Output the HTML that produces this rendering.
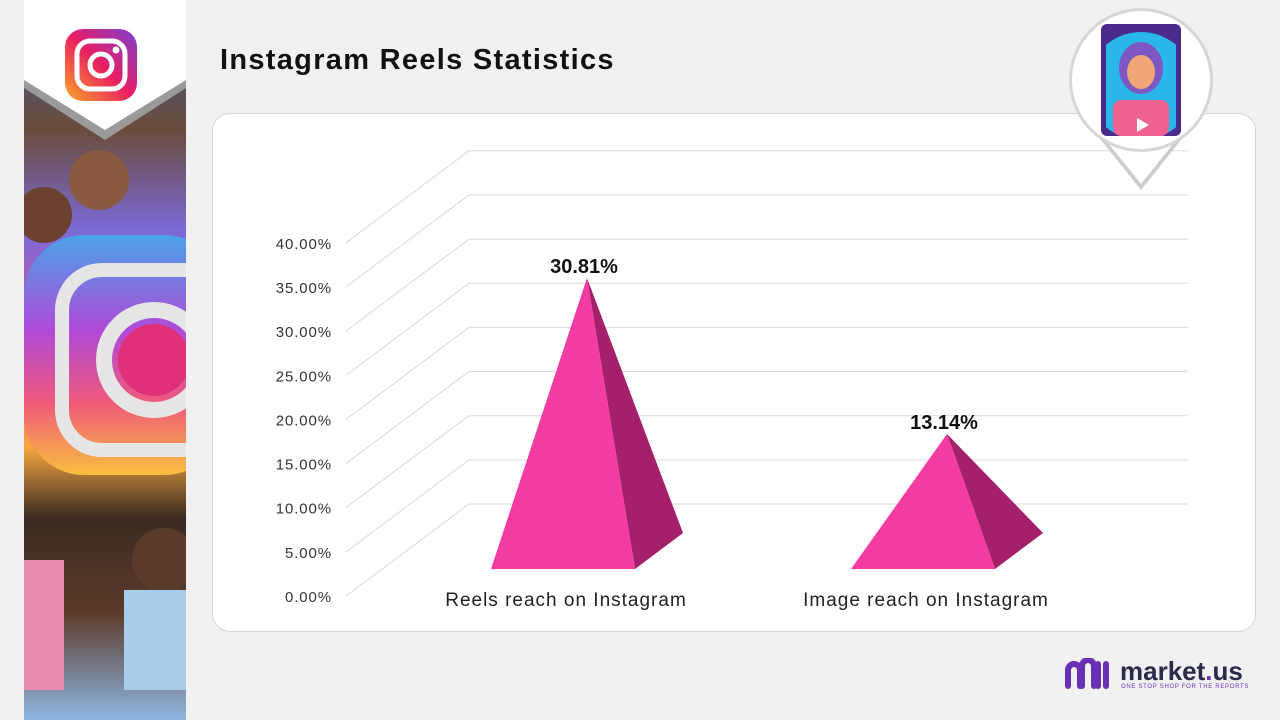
<!DOCTYPE html>
<html><head><meta charset="utf-8">
<style>
body{margin:0;width:1280px;height:720px;background:#f1f1f1;overflow:hidden;position:relative;font-family:"Liberation Sans",sans-serif}
#strip{position:absolute;left:24px;top:0;width:162px;height:720px;overflow:hidden;background:linear-gradient(180deg,#3b5aa8 0%,#6a4c3a 18%,#7b6ad8 32%,#e84a8a 50%,#f6a640 62%,#3a2a22 72%,#5b3a2a 85%,#8fb6e0 100%)}
#title{position:absolute;left:220px;top:44px;font-size:29px;font-weight:bold;color:#111;letter-spacing:1.3px}
#card{position:absolute;left:212px;top:113px;width:1044px;height:519px;background:#fff;border:1px solid #d6d6d6;border-radius:18px;box-sizing:border-box}
svg{position:absolute;left:0;top:0}
</style></head><body>
<div id="strip">
  <svg width="162" height="720">
    <rect x="0" y="235" width="200" height="240" rx="60" fill="url(#ig)" />
    <rect x="38" y="270" width="180" height="180" rx="40" fill="none" stroke="#e6e6e6" stroke-width="14"/>
    <circle cx="130" cy="360" r="50" fill="none" stroke="#e6e6e6" stroke-width="16"/>
    <circle cx="130" cy="360" r="36" fill="#e0307a"/>
    <circle cx="75" cy="180" r="30" fill="#8a5a40"/>
    <circle cx="20" cy="215" r="28" fill="#6a4030"/>
    <circle cx="140" cy="560" r="32" fill="#5a3a28"/>
    <rect x="100" y="590" width="62" height="100" fill="#a9cdeb"/>
    <rect x="0" y="560" width="40" height="130" fill="#e68aae"/>
    <defs><linearGradient id="ig" x1="0" y1="0" x2="0" y2="1"><stop offset="0" stop-color="#4aa3e8"/><stop offset="0.4" stop-color="#b04ad8"/><stop offset="0.7" stop-color="#f05a7a"/><stop offset="1" stop-color="#f8c040"/></linearGradient></defs>
    <polygon points="0,0 162,0 162,88 81,140 0,88" fill="#9a9a9a"/>
    <polygon points="0,0 162,0 162,80 81,130 0,80" fill="#fff"/>
    <defs><linearGradient id="ig2" x1="0" y1="1" x2="1" y2="0"><stop offset="0" stop-color="#f9a825"/><stop offset="0.5" stop-color="#e91e63"/><stop offset="1" stop-color="#7b3fd1"/></linearGradient></defs>
    <rect x="41" y="29" width="72" height="72" rx="18" fill="url(#ig2)"/>
    <rect x="53" y="41" width="48" height="48" rx="13" fill="none" stroke="#fff" stroke-width="5"/>
    <circle cx="77" cy="65" r="11" fill="none" stroke="#fff" stroke-width="5"/>
    <circle cx="92" cy="50" r="3.5" fill="#fff"/>
  </svg>
</div>
<div id="title">Instagram Reels Statistics</div>
<div id="card"></div>
<svg id="chart" width="1280" height="720"></svg>
<svg width="1280" height="720" style="pointer-events:none">
  <polygon points="1085,120 1197,120 1141,190" fill="#ccc"/>
  <polygon points="1088,118 1194,118 1141,184" fill="#fff"/>
  <circle cx="1141" cy="80" r="72" fill="#d6d6d6"/>
  <circle cx="1141" cy="80" r="69" fill="#fff"/>
  <rect x="1101" y="24" width="80" height="112" rx="6" fill="#4a2a8a"/>
  <circle cx="1141" cy="86" r="54" fill="#29b6e8" clip-path="url(#c1)"/>
  <clipPath id="c1"><rect x="1106" y="30" width="70" height="106"/></clipPath>
  <ellipse cx="1141" cy="68" rx="22" ry="26" fill="#7e57c2"/>
  <ellipse cx="1141" cy="72" rx="14" ry="17" fill="#f0a878"/>
  <rect x="1113" y="100" width="56" height="36" rx="8" fill="#f06292"/>
  <polygon points="1137,118 1137,132 1149,125" fill="#fff"/>
</svg>
<div style="position:absolute;left:1064px;top:658px">
  <svg width="50" height="34" style="position:static"><path d="M4 28 V12 a6 6 0 0 1 12 0 V28 M18 28 V8 a6 6 0 0 1 12 0 V28 M34 28 V6 M42 28 V6" stroke="#6b2fb3" stroke-width="6" fill="none" stroke-linecap="round"/></svg>
  <div style="position:absolute;left:56px;top:-2px;font-size:26px;font-weight:bold;color:#2a2a4a;white-space:nowrap">market<span style="color:#6b2fb3">.</span>us</div>
  <div style="position:absolute;left:57px;top:26px;font-size:6px;color:#6b2fb3;white-space:nowrap;letter-spacing:0.7px">ONE STOP SHOP FOR THE REPORTS</div>
</div>
<script>
const categories = ["Reels reach on Instagram", "Image reach on Instagram"];
const values = [30.81, 13.14];
const valueLabels = ["30.81%", "13.14%"];
const ticks = [0,5,10,15,20,25,30,35,40];
const tickLabels = ["0.00%","5.00%","10.00%","15.00%","20.00%","25.00%","30.00%","35.00%","40.00%"];

const NS="http://www.w3.org/2000/svg";
const svg=document.getElementById('chart');
const pxPer=8.83, front0=596, dX=123, dY=-92, gx0=346, gx1=469, gRight=1188;
function yFront(v){return front0 - v*pxPer;}
function mk(t,a){const e=document.createElementNS(NS,t);for(const k in a)e.setAttribute(k,a[k]);svg.appendChild(e);return e;}
ticks.forEach((t,i)=>{
  const yf=yFront(t), yb=yf+dY;
  const d=mk('line',{x1:gx0,y1:yf,x2:gx1,y2:yb,stroke:'#d9d9d9','stroke-width':1});
  
  
  const h=mk('line',{x1:gx1,y1:yb,x2:gRight,y2:yb,stroke:'#d9d9d9','stroke-width':1});
  
  
  const tx=mk('text',{x:332,y:yf+6,'text-anchor':'end','font-size':15,'letter-spacing':0.9,fill:'#333','font-family':'Liberation Sans, sans-serif'});
  tx.textContent=tickLabels[i];
  
  
});
const baseY=569, halfW=72, cx0=563, step=360, apexOff=24, mid=550;
values.forEach((v,i)=>{
  const cx=cx0+i*step, ay=mid-v*pxPer, ax=cx+apexOff;
  const side=mk('polygon',{points:`${ax},${ay} ${cx+halfW},${baseY} ${cx+halfW+48},${baseY-36}`,fill:'#a4206a'});
  
  
  const f=mk('polygon',{points:`${ax},${ay} ${cx-halfW},${baseY} ${cx+halfW},${baseY}`,fill:'#f43ba2'});
  
  
  const lb=mk('text',{x:ax-3,y:ay-5,'text-anchor':'middle','font-size':20,'font-weight':'bold',fill:'#111','font-family':'Liberation Sans, sans-serif'});
  lb.textContent=valueLabels[i];
  
  
  const cl=mk('text',{x:cx+3,y:606,'text-anchor':'middle','font-size':19,'letter-spacing':1,fill:'#222','font-family':'Liberation Sans, sans-serif'});
  cl.textContent=categories[i];
  
  
});
</script>
</body></html>
